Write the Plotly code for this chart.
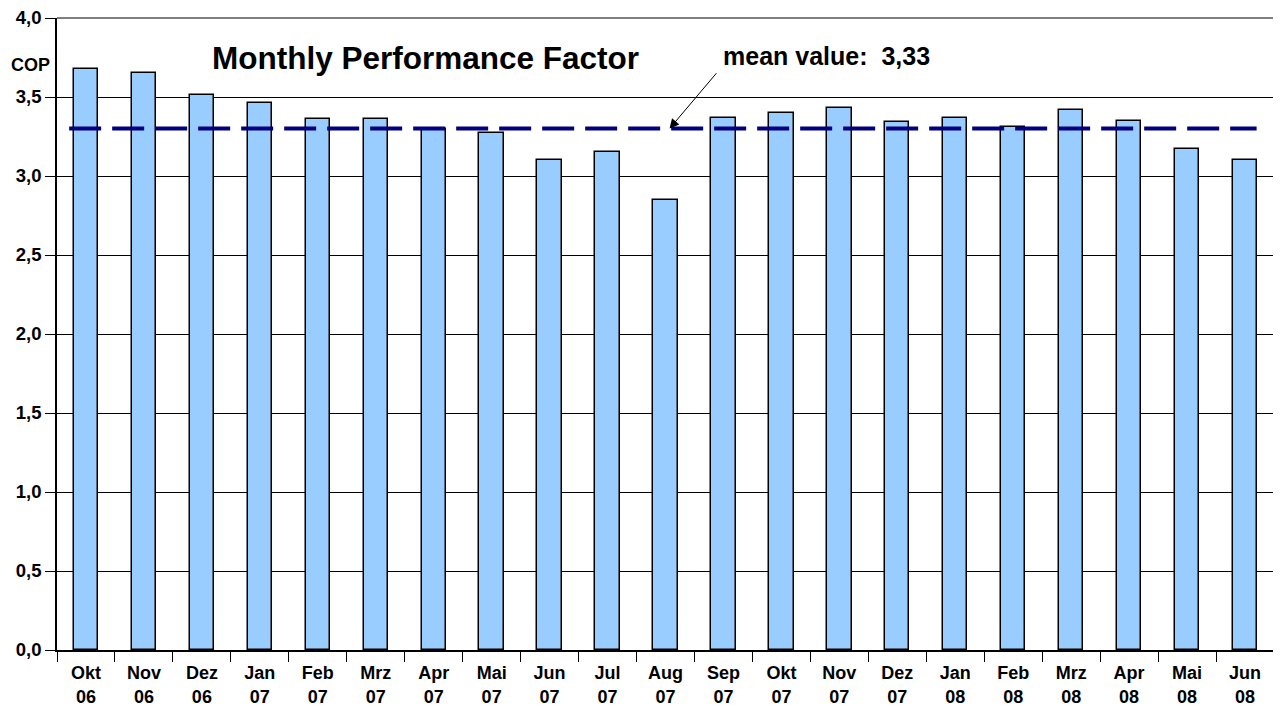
import plotly.graph_objects as go

months = ["Okt<br>06", "Nov<br>06", "Dez<br>06", "Jan<br>07", "Feb<br>07", "Mrz<br>07", "Apr<br>07",
          "Mai<br>07", "Jun<br>07", "Jul<br>07", "Aug<br>07", "Sep<br>07", "Okt<br>07", "Nov<br>07",
          "Dez<br>07", "Jan<br>08", "Feb<br>08", "Mrz<br>08", "Apr<br>08", "Mai<br>08", "Jun<br>08"]
cop = [3.68, 3.65, 3.51, 3.46, 3.36, 3.36, 3.30, 3.27, 3.10, 3.15, 2.85,
       3.37, 3.40, 3.43, 3.34, 3.37, 3.31, 3.42, 3.35, 3.17, 3.10]
mean_line = 3.30
mean_label = "mean value:&nbsp;&nbsp;3,33"

font = "Liberation Sans, Arial, sans-serif"
bold_months = ["<b>" + m.replace("<br>", "</b><br><b>") + "</b>" for m in months]

fig = go.Figure()
fig.add_trace(go.Bar(
    x=list(range(len(months))), y=cop, width=0.42,
    marker=dict(color="#99CCFF", line=dict(color="#000000", width=1.5)),
    hoverinfo="y",
))

fig.add_shape(type="line", xref="x", yref="y", x0=-0.29, x1=20.2, y0=mean_line, y1=mean_line,
              line=dict(color="#000080", width=4, dash="32px,11px"))
# right border of plot area
fig.add_shape(type="line", xref="paper", yref="paper", x0=1, x1=1, y0=0, y1=1,
              line=dict(color="#808080", width=1.5))
# top gridline (4,0)
fig.add_shape(type="line", xref="paper", yref="paper", x0=0, x1=1, y0=1, y1=1,
              line=dict(color="#000000", width=1))

fig.add_annotation(x=0.303, y=0.937, xref="paper", yref="paper", text="<b>Monthly Performance Factor</b>",
                   showarrow=False, xanchor="center", yanchor="middle", font=dict(size=31.5, color="black", family=font))
fig.add_annotation(x=-0.022, y=0.926, xref="paper", yref="paper", text="<b>COP</b>",
                   showarrow=False, xanchor="center", yanchor="middle", font=dict(size=18, color="black", family=font))
fig.add_annotation(x=0.546, y=0.94, xref="paper", yref="paper", text="<b>" + mean_label + "</b>",
                   showarrow=False, xanchor="left", yanchor="middle", font=dict(size=25, color="black", family=font))
fig.add_annotation(x=10.07, y=mean_line, xref="x", yref="y", ax=10.9, ay=3.66, axref="x", ayref="y",
                   text="", showarrow=True, arrowhead=2, arrowsize=1.9, arrowwidth=1, arrowcolor="black")

fig.update_layout(
    width=1273, height=699,
    margin=dict(l=49, r=7, t=10, b=57),
    paper_bgcolor="white", plot_bgcolor="white",
    separators=",.",
    showlegend=False,
    bargap=0,
    font=dict(family=font, color="black"),
    xaxis=dict(
        range=[-0.5, 20.5], tickmode="array", tickvals=list(range(len(months))), ticktext=bold_months,
        ticks="", showgrid=False, zeroline=False, showline=True, linecolor="black", linewidth=1.5,
        tickfont=dict(size=18, family=font, color="black"), automargin=False, ticklabelstandoff=6,
        minor=dict(tickmode="array", tickvals=[i - 0.5 for i in range(len(months) + 1)],
                   ticks="outside", ticklen=10, tickcolor="black", tickwidth=1, showgrid=False),
    ),
    yaxis=dict(
        range=[0, 4], dtick=0.5, tickformat=".1f", ticks="outside", ticklen=10, tickcolor="black",
        showgrid=True, gridcolor="black", gridwidth=1, zeroline=False, showline=True, automargin=False,
        ticklabeloverflow="allow",
        linecolor="black", linewidth=1.5, tickfont=dict(size=18.5, family=font, color="black", weight="bold"),
    ),
)

fig.write_html("out.html")
